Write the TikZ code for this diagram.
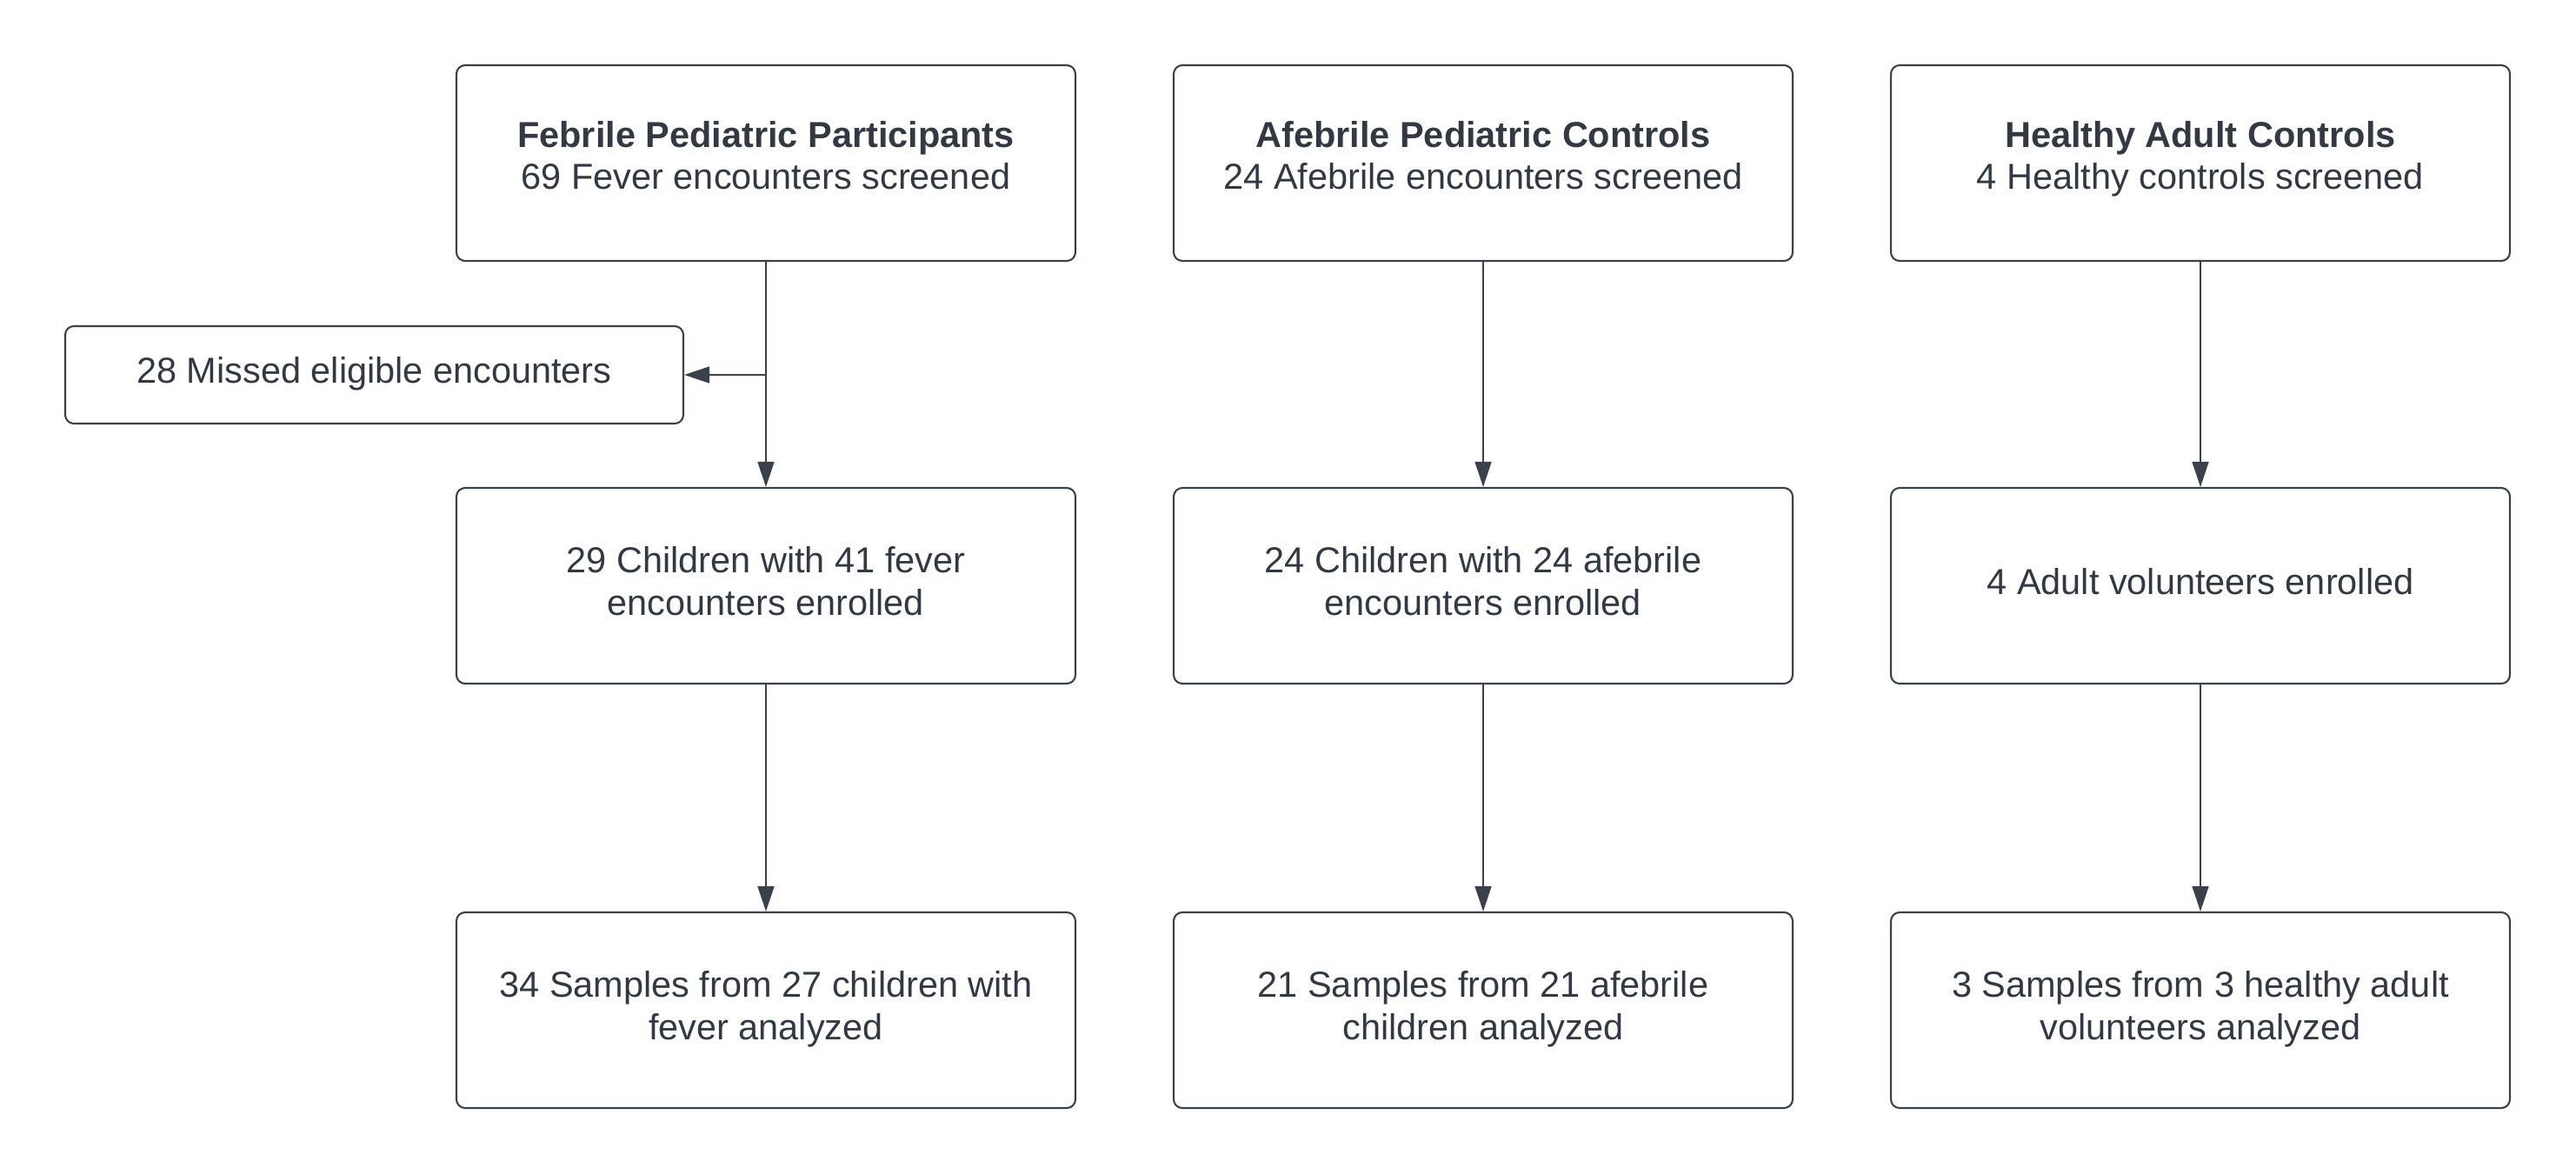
\documentclass[tikz,border=0pt]{standalone}
\usepackage{fontspec}
\setmainfont{Liberation Sans}
\usetikzlibrary{arrows.meta}
\definecolor{ink}{HTML}{3A414A}
\definecolor{txt}{HTML}{333943}
\newcommand{\ls}{\strut}
\newcommand{\ld}{\rule[-6.3pt]{0pt}{6.3pt}}
\begin{document}
\begin{tikzpicture}[
  box/.style={draw=ink, line width=0.6pt, rounded corners=0.1cm, minimum width=7.12cm, minimum height=2.25cm, align=center, text=txt, font=\fontsize{11.8}{13.9}\selectfont, inner sep=0pt},
  conn/.style={draw=ink, line width=0.45pt, -{Triangle[length=0.29cm,width=0.19cm]}}
]
\useasboundingbox (0,0) rectangle (29.63,-13.5);
\node[box] (a1) at (8.81,-1.875) {\textbf{Febrile Pediatric Participants}\ls\\69 Fever encounters screened\ls\ld};
\node[box] (b1) at (17.06,-1.875) {\textbf{Afebrile Pediatric Controls}\ls\\24 Afebrile encounters screened\ls\ld};
\node[box] (c1) at (25.31,-1.875) {\textbf{Healthy Adult Controls}\ls\\4 Healthy controls screened\ls\ld};
\node[box, minimum width=7.11cm, minimum height=1.12cm] (m) at (4.305,-4.31) {28 Missed eligible encounters\ls};
\node[box] (a2) at (8.81,-6.735) {29 Children with 41 fever\ls\\encounters enrolled\ls};
\node[box] (b2) at (17.06,-6.735) {24 Children with 24 afebrile\ls\\encounters enrolled\ls};
\node[box] (c2) at (25.31,-6.735) {4 Adult volunteers enrolled\ls};
\node[box] (a3) at (8.81,-11.615) {34 Samples from 27 children with\ls\\fever analyzed\ls};
\node[box] (b3) at (17.06,-11.615) {21 Samples from 21 afebrile\ls\\children analyzed\ls};
\node[box] (c3) at (25.31,-11.615) {3 Samples from 3 healthy adult\ls\\volunteers analyzed\ls};
\coordinate (j) at (a1.south |- m.east);
\draw[conn] (a1.south) -- (a2.north);
\draw[conn] (j) -- (m.east);
\draw[conn] (b1.south) -- (b2.north);
\draw[conn] (c1.south) -- (c2.north);
\draw[conn] (a2.south) -- (a3.north);
\draw[conn] (b2.south) -- (b3.north);
\draw[conn] (c2.south) -- (c3.north);
\end{tikzpicture}
\end{document}
